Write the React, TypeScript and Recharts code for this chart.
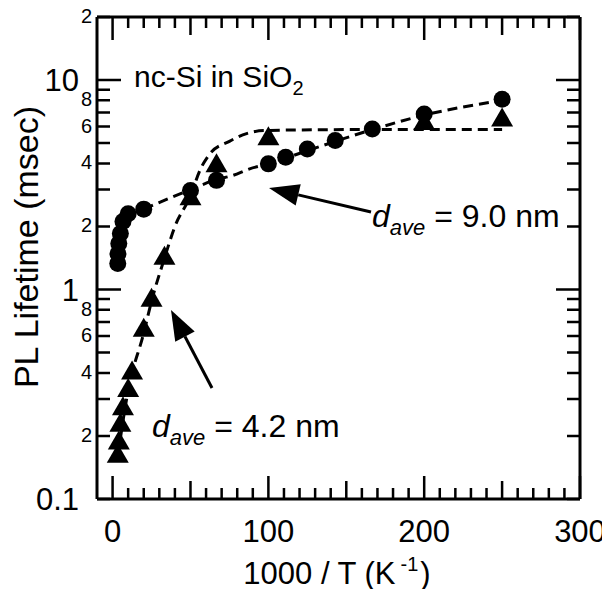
import { ComposedChart, Scatter, Line, XAxis, YAxis } from 'recharts';

// 9.0 nm sample (circles)
const circleX = [3.33, 3.45, 4, 5, 6.67, 10, 20, 50, 66.7, 100, 111.1, 125, 142.9, 166.7, 200, 250];
const circleY = [1.33, 1.48, 1.66, 1.85, 2.11, 2.3, 2.42, 2.97, 3.32, 3.98, 4.28, 4.69, 5.14, 5.84, 6.89, 8.1];

// 4.2 nm sample (triangles)
const triX = [3.33, 4, 5, 6.67, 10, 12.5, 20, 25, 33.3, 50, 66.7, 100, 200, 250];
const triY = [0.16, 0.185, 0.225, 0.27, 0.33, 0.4, 0.64, 0.89, 1.41, 2.71, 3.9, 5.24, 6.2, 6.45];

// dashed guide curves
const fitCircleX = [20, 50, 66.7, 77, 88, 100, 125, 166.7, 200, 250];
const fitCircleY = [2.42, 3.0, 3.35, 3.5, 3.77, 3.98, 4.6, 5.8, 6.8, 8.0];
const fitTriX = [3.33, 10, 20, 25, 33.3, 40, 50, 56, 62.5, 75, 86, 97, 150, 200, 250];
const fitTriY = [0.16, 0.33, 0.62, 0.88, 1.41, 2.0, 2.8, 3.7, 4.45, 5.1, 5.55, 5.74, 5.8, 5.8, 5.8];

const xTicks = [0, 10, 20, 30, 40, 50, 60, 70, 80, 90, 100, 110, 120, 130, 140, 150, 160, 170, 180, 190, 200, 210, 220, 230, 240, 250, 260, 270, 280, 290, 300];
const xLabelTicks = [0, 100, 200, 300];
const yTicks = [0.1, 0.2, 0.3, 0.4, 0.5, 0.6, 0.7, 0.8, 0.9, 1, 2, 3, 4, 5, 6, 7, 8, 9, 10, 20];
const yTickLabels = ['0.1', '2', '', '4', '', '6', '', '8', '', '1', '2', '', '4', '', '6', '', '8', '', '10', '2'];

const X_MIN = -10;
const X_MAX = 300;
const Y_MIN = 0.1;
const Y_MAX = 20;

const circles = circleX.map((x, i) => ({ x, y: circleY[i] }));
const triangles = triX.map((x, i) => ({ x, y: triY[i] }));
const fitCircle = fitCircleX.map((x, i) => ({ x, y: fitCircleY[i] }));
const fitTri = fitTriX.map((x, i) => ({ x, y: fitTriY[i] }));

const FONT = '"Liberation Sans", Arial, Helvetica, sans-serif';

const W = 602;
const H = 581;
const Y_AXIS_W = 89;
const X_AXIS_H = 90;
const M_TOP = 8;
const M_RIGHT = 29;
// plot box that recharts lays out from the sizes above
const PL = Y_AXIS_W;
const PR = W - M_RIGHT - 1;
const PT = M_TOP + 1;
const PB = H - X_AXIS_H;
const sx = (v: number) => PL + ((v - X_MIN) / (X_MAX - X_MIN)) * (PR - PL);
const sy = (v: number) =>
  PT + ((Math.log10(Y_MAX) - Math.log10(v)) / (Math.log10(Y_MAX) - Math.log10(Y_MIN))) * (PB - PT);

const xTickLen = (v: number) => (v % 100 === 0 ? 23 : v % 50 === 0 ? 18 : 11);
const yTickLen = (v: number) => (v === 1 || v === 10 ? 24 : 13);

const BottomLabel = (props: any) => (
  <text x={props.x} y={Number(props.y) + 43} textAnchor="middle" fontSize={31} fontFamily={FONT} fill="#000">
    {props.payload.value}
  </text>
);

const LeftLabel = (props: any) => {
  const label = yTickLabels[props.index];
  if (!label) return <g />;
  const big = label === '0.1' || label === '1' || label === '10';
  return (
    <text
      x={Number(props.x) - (big ? 18 : 5)}
      y={props.y}
      dy={big ? 11 : 6}
      textAnchor="end"
      fontSize={big ? 31 : 20}
      fontFamily={FONT}
      fill="#000"
    >
      {label}
    </text>
  );
};

const CircleDot = (props: any) => <circle cx={props.cx} cy={props.cy} r={8.5} fill="#000" />;
const TriangleDot = (props: any) => {
  const { cx, cy } = props;
  return <polygon points={`${cx},${cy - 12.5} ${cx - 11},${cy + 6.5} ${cx + 11},${cy + 6.5}`} fill="#000" />;
};

const Arrow = ({ x1, y1, x2, y2 }: { x1: number; y1: number; x2: number; y2: number }) => {
  const a = Math.atan2(y2 - y1, x2 - x1);
  const L = 30;
  const hw = 11;
  const bx = x2 - L * Math.cos(a);
  const by = y2 - L * Math.sin(a);
  const px = -Math.sin(a) * hw;
  const py = Math.cos(a) * hw;
  return (
    <g>
      <path d={`M${x1},${y1}L${bx},${by}`} stroke="#000" strokeWidth={3} fill="none" />
      <polygon points={`${x2},${y2} ${bx + px},${by + py} ${bx - px},${by - py}`} fill="#000" />
    </g>
  );
};

const tickPath =
  xTicks.map((v) => `M${sx(v)},${PB}v${-xTickLen(v)}M${sx(v)},${PT}v${xTickLen(v)}`).join('') +
  yTicks.map((v) => `M${PL},${sy(v)}h${yTickLen(v)}M${PR},${sy(v)}h${-yTickLen(v)}`).join('');

const axisLine = { stroke: '#000', strokeWidth: 3 };

export default function App() {
  return (
    <div style={{ position: 'relative', width: W, height: H }}>
      <ComposedChart
        width={W}
        height={H}
        margin={{ top: M_TOP, right: M_RIGHT, bottom: 0, left: 0 }}
        style={{ overflow: 'visible' }}
      >
        <XAxis
          xAxisId="bottom"
          dataKey="x"
          type="number"
          domain={[X_MIN, X_MAX]}
          ticks={xLabelTicks}
          interval={0}
          height={X_AXIS_H}
          tickSize={0}
          tickMargin={0}
          tickLine={false}
          axisLine={axisLine}
          tick={BottomLabel}
        />
        <XAxis
          xAxisId="top"
          orientation="top"
          type="number"
          domain={[X_MIN, X_MAX]}
          height={1}
          tickLine={false}
          axisLine={axisLine}
          tick={false}
        />
        <YAxis
          yAxisId="left"
          dataKey="y"
          type="number"
          scale="log"
          domain={[Y_MIN, Y_MAX]}
          ticks={yTicks}
          interval={0}
          width={Y_AXIS_W}
          tickSize={0}
          tickMargin={0}
          tickLine={false}
          axisLine={axisLine}
          tick={LeftLabel}
        />
        <YAxis
          yAxisId="right"
          orientation="right"
          type="number"
          scale="log"
          domain={[Y_MIN, Y_MAX]}
          width={1}
          tickLine={false}
          axisLine={axisLine}
          tick={false}
        />
        <Line
          xAxisId="bottom"
          yAxisId="left"
          data={fitTri}
          dataKey="y"
          type="monotone"
          stroke="#000"
          strokeWidth={3}
          strokeDasharray="10 6"
          dot={false}
          isAnimationActive={false}
        />
        <Line
          xAxisId="bottom"
          yAxisId="left"
          data={fitCircle}
          dataKey="y"
          type="monotone"
          stroke="#000"
          strokeWidth={3}
          strokeDasharray="10 6"
          dot={false}
          isAnimationActive={false}
        />
        <Scatter xAxisId="bottom" yAxisId="left" data={triangles} shape={TriangleDot} isAnimationActive={false} />
        <Scatter xAxisId="bottom" yAxisId="left" data={circles} shape={CircleDot} isAnimationActive={false} />
      </ComposedChart>
      <svg
        width={W}
        height={H}
        style={{ position: 'absolute', left: 0, top: 0, pointerEvents: 'none', overflow: 'visible' }}
        fontFamily={FONT}
      >
        {/* inward tick marks on all four sides */}
        <path d={tickPath} stroke="#000" strokeWidth={2.5} fill="none" />
        <text x={126} y={79} fontSize={30} fill="#000">
          nc-Si in SiO<tspan fontSize={20} dy={8}>2</tspan>
        </text>
        <Arrow x1={363} y1={204} x2={261} y2={180} />
        <text x={364} y={219} fontSize={32} fill="#000">
          <tspan fontStyle="italic">d</tspan>
          <tspan fontStyle="italic" fontSize={22} dy={8}>ave</tspan>
          <tspan dy={-8}> = 9.0 nm</tspan>
        </text>
        <Arrow x1={204} y1={380} x2={163} y2={302} />
        <text x={144} y={429} fontSize={32} fill="#000">
          <tspan fontStyle="italic">d</tspan>
          <tspan fontStyle="italic" fontSize={22} dy={8}>ave</tspan>
          <tspan dy={-8}> = 4.2 nm</tspan>
        </text>
        <text x={329} y={576} fontSize={31} textAnchor="middle" fill="#000">
          1000 / T (K<tspan fontSize={20} dx={5} dy={-13}>-1</tspan>
          <tspan dx={2} dy={13}>)</tspan>
        </text>
        <text transform="translate(30,239) rotate(-90)" fontSize={34} textAnchor="middle" fill="#000">
          PL Lifetime (msec)
        </text>
      </svg>
    </div>
  );
}
